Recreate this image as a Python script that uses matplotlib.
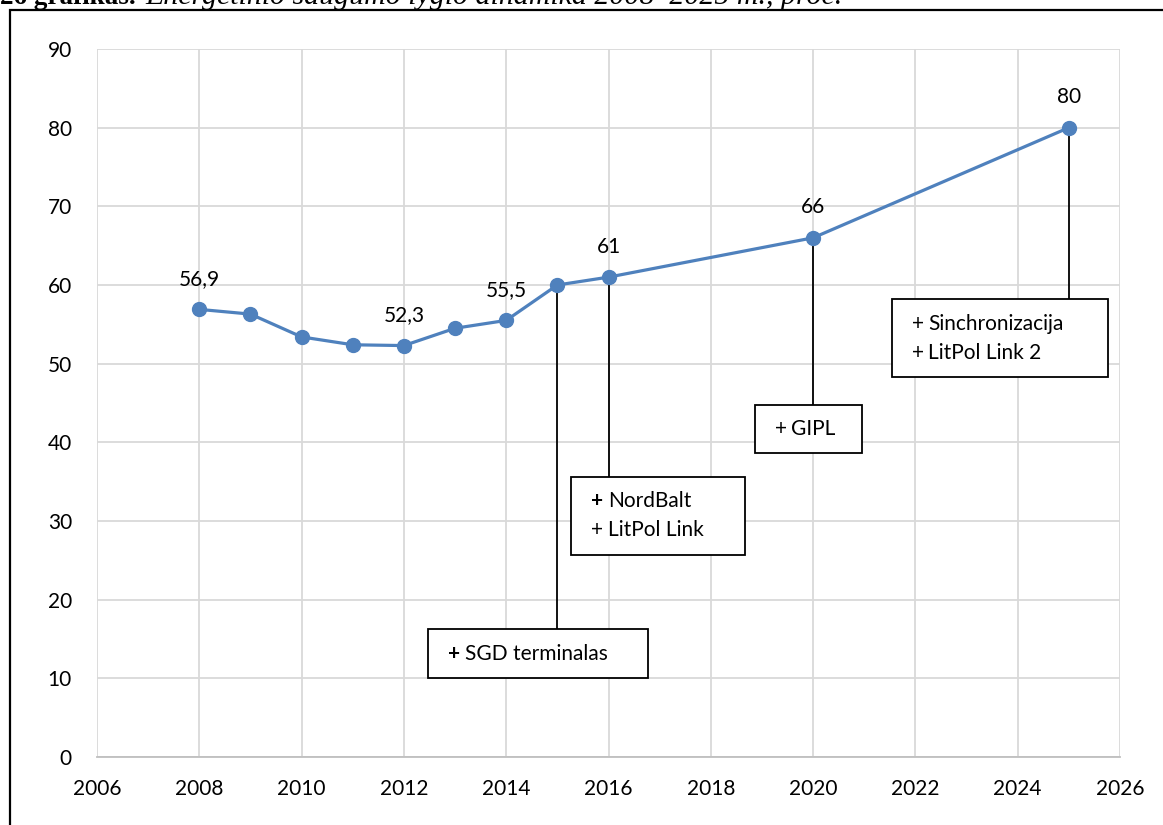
import matplotlib.pyplot as plt
from matplotlib.patches import Rectangle
import numpy as np

plt.rcParams["font.family"] = ["Lato", "DejaVu Sans"]

years = [2008, 2009, 2010, 2011, 2012, 2013, 2014, 2015, 2016, 2020, 2025]
values = [56.9, 56.3, 53.4, 52.4, 52.3, 54.5, 55.5, 60.0, 61.0, 66.0, 80.0]
labelled = [2008, 2012, 2014, 2016, 2020, 2025]

# callouts: year of the point, box (x0, x1, y0, y1), text lines, bold plus?
callouts = [
    (2015, (2012.47, 2016.77, 10.0, 16.3), ["SGD terminalas"], True),
    (2016, (2015.27, 2018.67, 25.7, 35.6), ["NordBalt", "LitPol Link"], True),
    (2020, (2018.86, 2020.96, 38.6, 44.7), ["GIPL"], False),
    (2025, (2021.54, 2025.77, 48.3, 58.2), ["Sinchronizacija", "LitPol Link 2"], False),
]

BLUE = "#4f81bd"
FS = 15

fig = plt.figure(figsize=(11.63, 8.25), dpi=100)
ax = fig.add_axes([97/1163, 1 - 757/825, (1120-97)/1163, (757-49)/825])

ax.plot(years, values, color=BLUE, lw=2.3, marker="o", ms=10, zorder=4)

def fmt(v):
    s = f"{v:.1f}".replace(".", ",")
    return s[:-2] if s.endswith(",0") else s

for y, v in zip(years, values):
    if y in labelled:
        ax.annotate(fmt(v), (y, v), xytext=(0, 22), textcoords="offset points",
                    ha="center", va="center", fontsize=FS, color="black")

for yr, (x0, x1, y0, y1), lines, bold_first in callouts:
    v = values[years.index(yr)]
    ax.plot([yr, yr], [v, y1], color="black", lw=1.3, zorder=3)
    ax.add_patch(Rectangle((x0, y0), x1 - x0, y1 - y0, facecolor="white",
                           edgecolor="black", lw=1.3, zorder=5))
    n = len(lines)
    step = 3.7
    ymid = (y0 + y1) / 2
    tx = x0 + 0.39
    for i, t in enumerate(lines):
        ty = ymid + (n - 1) / 2 * step - i * step
        ax.text(tx, ty, "+", fontsize=FS, va="center", ha="left",
                weight="bold" if (bold_first and i == 0) else "normal", zorder=6)
        ax.annotate(t, (tx, ty), xytext=(12, 0), textcoords="offset points",
                    fontsize=FS, va="center", ha="left", zorder=6)

ax.set_xlim(2006, 2026)
ax.set_ylim(0, 90)
ax.set_xticks(np.arange(2006, 2027, 2))
ax.set_yticks(np.arange(0, 91, 10))
ax.grid(True, color="#d9d9d9", lw=1.3)
ax.set_axisbelow(True)
for s in ["top", "right", "left"]:
    ax.spines[s].set_visible(False)
ax.spines["bottom"].set_color("#bfbfbf")
ax.spines["bottom"].set_linewidth(1.3)
ax.tick_params(axis="both", length=0, labelsize=FS)
ax.tick_params(axis="y", pad=18)
ax.tick_params(axis="x", pad=16)

# outer frame
fig.patches.append(Rectangle((10/1163, -0.1), 1.2, 1 - 10.5/825 + 0.1,
                             transform=fig.transFigure, fill=False,
                             edgecolor="black", lw=1.6))

# cut-off caption above the frame
fig.text(0, 1 - 4.5/825, "26 grafikas.", family="Liberation Serif", weight="bold",
         fontsize=19.5, va="baseline", ha="left")
fig.text(145/1163, 1 - 4.5/825, "Energetinio saugumo lygio dinamika 2008–2025 m., proc.",
         family="Liberation Serif", style="italic", fontsize=21.5, va="baseline", ha="left")

fig.savefig("out.png", dpi=100)
